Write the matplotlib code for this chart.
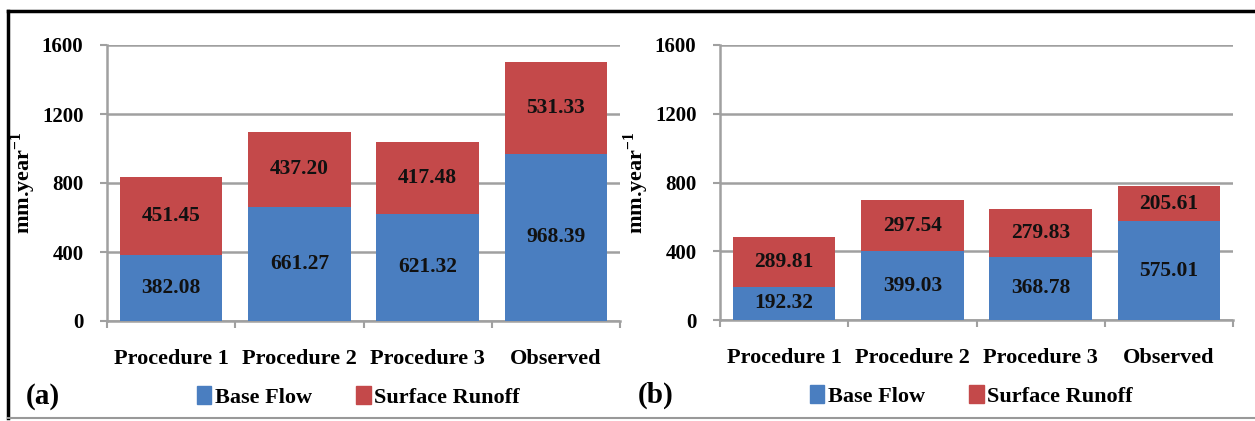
import matplotlib
matplotlib.use("Agg")
from matplotlib import pyplot as plt
from matplotlib.patches import Patch
from matplotlib.lines import Line2D

categories = ["Procedure 1", "Procedure 2", "Procedure 3", "Observed"]

# panel (a)
base_a = [382.08, 661.27, 621.32, 968.39]
surf_a = [451.45, 437.20, 417.48, 531.33]
# panel (b)
base_b = [192.32, 399.03, 368.78, 575.01]
surf_b = [289.81, 297.54, 279.83, 205.61]

yticks = [0, 400, 800, 1200, 1600]

BLUE = "#4a7ec0"
RED = "#c4494a"
GRID = "#a0a0a0"

plt.rcParams["font.family"] = ["Liberation Serif", "DejaVu Serif"]
plt.rcParams["font.weight"] = "bold"
plt.rcParams["mathtext.fontset"] = "custom"
plt.rcParams["mathtext.rm"] = "Liberation Serif:bold"
plt.rcParams["mathtext.bf"] = "Liberation Serif:bold"


def panel(ax, base, surf, tag):
    x = list(range(len(categories)))
    ax.bar(x, base, width=0.8, color=BLUE, zorder=3)
    ax.bar(x, surf, width=0.8, bottom=base, color=RED, zorder=3)
    for i in x:
        ax.text(i, base[i] / 2, "%.2f" % base[i], ha="center", va="center",
                fontsize=15.5, fontweight="bold", color="#111111", zorder=4)
        ax.text(i, base[i] + surf[i] / 2, "%.2f" % surf[i], ha="center", va="center",
                fontsize=15.5, fontweight="bold", color="#111111", zorder=4)
    ax.set_xlim(-0.5, len(categories) - 0.5)
    ax.set_ylim(0, 1600)
    ax.set_yticks(yticks)
    ax.set_yticklabels([str(v) for v in yticks], fontsize=15, fontweight="bold")
    ax.set_xticks(x)
    ax.set_xticklabels(categories, fontsize=16, fontweight="bold")
    ax.set_xticks([i - 0.5 for i in range(len(categories) + 1)], minor=True)
    ax.tick_params(axis="x", which="major", length=0, pad=20)
    ax.tick_params(axis="x", which="minor", length=5, width=1.5, color=GRID)
    ax.tick_params(axis="y", length=5, width=1.5, color=GRID, pad=12)
    ax.yaxis.grid(True, color=GRID, linewidth=1.8, zorder=0)
    ax.set_axisbelow(True)
    for s in ["top", "right"]:
        ax.spines[s].set_visible(False)
    for s in ["left", "bottom"]:
        ax.spines[s].set_color(GRID)
        ax.spines[s].set_linewidth(1.8)
    ax.set_ylabel(r"mm.year$^{-1}$", fontsize=16, fontweight="bold")
    ax.yaxis.set_label_coords(-0.135, 0.5)
    handles = [Patch(color=BLUE, label="Base Flow"), Patch(color=RED, label="Surface Runoff")]
    ax.legend(handles=handles, loc="center", bbox_to_anchor=(0.49, -0.275), ncol=2,
              frameon=False, handlelength=0.65, handleheight=0.9,
              handletextpad=0.15, columnspacing=2.0, prop={"weight": "bold", "size": 16})
    ax.text(-0.125, -0.275, tag, transform=ax.transAxes, ha="center", va="center",
            fontsize=21, fontweight="bold")


fig = plt.figure(figsize=(12.55, 4.21), dpi=100)
ax1 = fig.add_axes([107 / 1255, 1 - 321 / 421, 513 / 1255, 276 / 421])
ax2 = fig.add_axes([720 / 1255, 1 - 320 / 421, 513 / 1255, 275 / 421])
panel(ax1, base_a, surf_a, "(a)")
panel(ax2, base_b, surf_b, "(b)")

# outer frame
fig.add_artist(Line2D([8 / 1255, 8 / 1255], [1 - 418 / 421, 1 - 11 / 421],
                      transform=fig.transFigure, color="black", linewidth=2.5))
fig.add_artist(Line2D([8 / 1255, 1], [1 - 11 / 421, 1 - 11 / 421],
                      transform=fig.transFigure, color="black", linewidth=2.5))
fig.add_artist(Line2D([8 / 1255, 1], [1 - 418 / 421, 1 - 418 / 421],
                      transform=fig.transFigure, color="#999999", linewidth=1.5))

fig.savefig("out.png", dpi=100)
